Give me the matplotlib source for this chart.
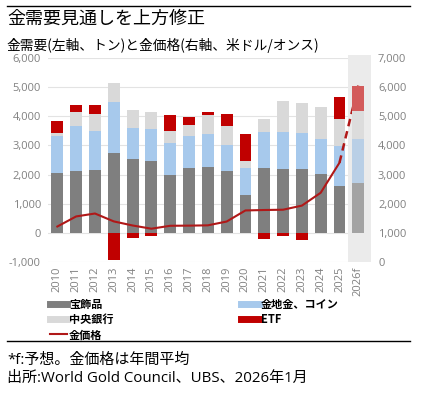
import numpy as np
import matplotlib
matplotlib.use('Agg')
import matplotlib.pyplot as plt
from matplotlib.lines import Line2D

plt.rcParams['font.family'] = ['Noto Sans CJK JP', 'DejaVu Sans']

# data (tonnes, USD/oz)
years = ['2010', '2011', '2012', '2013', '2014', '2015', '2016', '2017', '2018',
         '2019', '2020', '2021', '2022', '2023', '2024', '2025', '2026f']
jewelry = [2070, 2110, 2160, 2740, 2530, 2455, 2000, 2240, 2270, 2140, 1320, 2215, 2180, 2180, 2010, 1615, 1730]
bar_coin = [1270, 1570, 1350, 1750, 1080, 1115, 1070, 1080, 1135, 865, 910, 1240, 1275, 1240, 1205, 1375, 1490]
central_bank = [90, 470, 570, 650, 600, 580, 430, 375, 640, 660, 240, 455, 1080, 1045, 1090, 900, 945]
etf = [400, 250, 295, -920, -170, -100, 545, 285, 90, 400, 930, -190, -100, -250, 0, 785, 865]
price = [1225, 1570, 1670, 1400, 1260, 1150, 1250, 1255, 1265, 1395, 1775, 1790, 1800, 1940, 2380, 3410, 6050]

C_JEW, C_BAR, C_CB, C_ETF, C_LINE = '#7f7f7f', '#a7c9ec', '#d9d9d9', '#c00000', '#b01818'
F_JEW, F_BAR, F_CB, F_ETF = '#a3a3a3', '#b9cfe6', '#dcdcdc', '#d35b5b'
NUM_FONT = ['Open Sans', 'DejaVu Sans']

fig = plt.figure(figsize=(4.28, 3.95), dpi=100)
ax = fig.add_axes([0.112, 0.336, 0.755, 0.5175])
ax2 = ax.twinx()

x = np.arange(len(years))
n = len(years) - 1  # last one is forecast
w = 0.63
jew = np.array(jewelry, float)
bc = np.array(bar_coin, float)
cb = np.array(central_bank, float)
e = np.array(etf, float)
top = jew + bc + cb
etf_bottom = np.where(e >= 0, top, 0)

ax.bar(x[:n], jew[:n], w, color=C_JEW, zorder=3)
ax.bar(x[:n], bc[:n], w, bottom=jew[:n], color=C_BAR, zorder=3)
ax.bar(x[:n], cb[:n], w, bottom=(jew + bc)[:n], color=C_CB, zorder=3)
ax.bar(x[:n], e[:n], w, bottom=etf_bottom[:n], color=C_ETF, zorder=3)

# forecast bar in lighter shades, covering the end of the dashed price segment
ax.bar([x[n]], [jew[n]], w, color=F_JEW, zorder=10)
ax.bar([x[n]], [bc[n]], w, bottom=[jew[n]], color=F_BAR, zorder=10)
ax.bar([x[n]], [cb[n]], w, bottom=[jew[n] + bc[n]], color=F_CB, zorder=10)
ax.bar([x[n]], [e[n]], w, bottom=[etf_bottom[n]], color=F_ETF, zorder=10)

ax.set_xlim(-0.5, 16.68)
ax.set_ylim(-1000, 6000)
ax2.set_ylim(0, 7000)
ax.axvspan(15.46, 16.68, ymin=0, ymax=1.012, color='#ebebeb', zorder=1, clip_on=False, lw=0)

# price line on the right-axis scale
ax.plot(x[:n], price[:n], color=C_LINE, lw=1.5, zorder=5, transform=ax2.transData)
ax.plot(x[n - 1:], price[n - 1:], color=C_LINE, lw=1.8, ls=(0, (3, 2)), zorder=5,
        transform=ax2.transData)

ax.set_yticks(np.arange(-1000, 6001, 1000))
ax.set_yticklabels([f'{v:,}' for v in range(-1000, 6001, 1000)])
ax2.set_yticks(np.arange(0, 7001, 1000))
ax2.set_yticklabels([f'{v:,}' for v in range(0, 7001, 1000)])
ax.set_xticks(x)
ax.set_xticklabels(years, rotation=90)
ax.grid(axis='y', color='#e3e3e3', lw=0.8, zorder=0)
ax.set_axisbelow(True)
for a in (ax, ax2):
    for s in a.spines.values():
        s.set_visible(False)
    a.tick_params(length=0, labelsize=8, colors='#808080')
    for lab in a.get_xticklabels() + a.get_yticklabels():
        lab.set_family(NUM_FONT)
ax.tick_params(axis='y', pad=5)
ax2.tick_params(axis='y', pad=5)
ax.tick_params(axis='x', pad=3)
ax2.patch.set_visible(False)

handles = [Line2D([], [], color=C_JEW, lw=5), Line2D([], [], color=C_CB, lw=5),
           Line2D([], [], color=C_LINE, lw=1.5), Line2D([], [], color=C_BAR, lw=5),
           Line2D([], [], color=C_ETF, lw=5)]
labels = ['宝飾品', '中央銀行', '金価格', '金地金、コイン', 'ETF']
fig.legend(handles, labels, ncol=2, loc='upper left', bbox_to_anchor=(0.103, 0.26),
           frameon=False, prop={'size': 8, 'weight': 'bold'}, handlelength=1.6,
           handletextpad=0.15, columnspacing=11.5, labelspacing=0.2, borderpad=0)

fig.add_artist(Line2D([7 / 428, 410 / 428], [1 - 6 / 395] * 2, color='black', lw=1))
fig.add_artist(Line2D([7 / 428, 410 / 428], [1 - 341 / 395] * 2, color='black', lw=1))
fig.text(7 / 428, 1 - 19 / 395, '金需要見通しを上方修正', fontsize=13, va='center', ha='left')
fig.text(7 / 428, 1 - 45 / 395, '金需要(左軸、トン)と金価格(右軸、米ドル/オンス)', fontsize=9.9,
         va='center', ha='left')
fig.text(7 / 428, 1 - 360 / 395, '*f:予想。金価格は年間平均', fontsize=10.8, va='center', ha='left',
         family=['Open Sans', 'Noto Sans CJK JP'])
fig.text(7 / 428, 1 - 378 / 395, '出所:World Gold Council、UBS、2026年1月', fontsize=10.8,
         va='center', ha='left', family=['Open Sans', 'Noto Sans CJK JP'])

fig.savefig('out.png', dpi=100)
